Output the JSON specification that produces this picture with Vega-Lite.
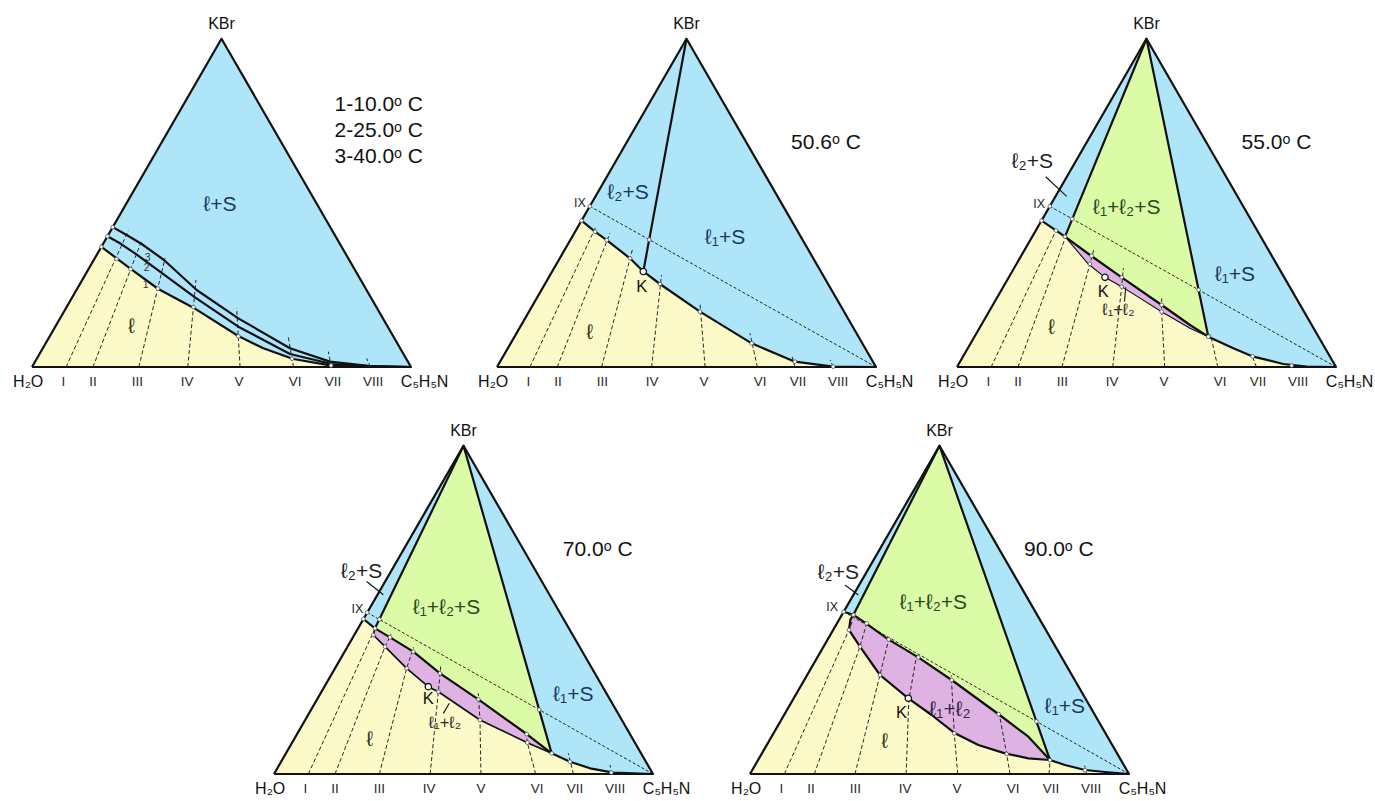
{
"$schema": "https://vega.github.io/schema/vega-lite/v6.json",
"padding": 0,
"background": "white",
"spacing": 0,
"config": {"view": {"stroke": null}, "concat": {"spacing": 0}},
"datasets": {
"polys": [
{"p":1,"id":"t","k":"yellow","o":0,"x":0,"y":0},{"p":1,"id":"t","k":"yellow","o":1,"x":100,"y":0},{"p":1,"id":"t","k":"yellow","o":2,"x":50,"y":86.6},
{"p":1,"id":"b","k":"blue","o":0,"x":18.3,"y":31.7},{"p":1,"id":"b","k":"blue","o":1,"x":50,"y":86.6},{"p":1,"id":"b","k":"blue","o":2,"x":100,"y":0},{"p":1,"id":"b","k":"blue","o":3,"x":90.06,"y":0.09},{"p":1,"id":"b","k":"blue","o":4,"x":79.07,"y":0.35},{"p":1,"id":"b","k":"blue","o":5,"x":68.95,"y":2.11},{"p":1,"id":"b","k":"blue","o":6,"x":61.04,"y":4.93},{"p":1,"id":"b","k":"blue","o":7,"x":54.44,"y":8.18},{"p":1,"id":"b","k":"blue","o":8,"x":42.57,"y":15.65},{"p":1,"id":"b","k":"blue","o":9,"x":33.33,"y":20.58},{"p":1,"id":"b","k":"blue","o":10,"x":25.86,"y":26.03},
{"p":2,"id":"t","k":"yellow","o":0,"x":0,"y":0},{"p":2,"id":"t","k":"yellow","o":1,"x":100,"y":0},{"p":2,"id":"t","k":"yellow","o":2,"x":50,"y":86.6},
{"p":2,"id":"b","k":"blue","o":0,"x":22.3,"y":38.6},{"p":2,"id":"b","k":"blue","o":1,"x":50,"y":86.6},{"p":2,"id":"b","k":"blue","o":2,"x":100,"y":0},{"p":2,"id":"b","k":"blue","o":3,"x":88.7,"y":0.1},{"p":2,"id":"b","k":"blue","o":4,"x":78.6,"y":1.4},{"p":2,"id":"b","k":"blue","o":5,"x":67.2,"y":6.24},{"p":2,"id":"b","k":"blue","o":6,"x":53.56,"y":14.6},{"p":2,"id":"b","k":"blue","o":7,"x":43.0,"y":21.9},{"p":2,"id":"b","k":"blue","o":8,"x":38.6,"y":25.2},{"p":2,"id":"b","k":"blue","o":9,"x":35.09,"y":28.67},{"p":2,"id":"b","k":"blue","o":10,"x":28.94,"y":33.5},{"p":2,"id":"b","k":"blue","o":11,"x":25.86,"y":35.7},
{"p":3,"id":"t","k":"yellow","o":0,"x":0,"y":0},{"p":3,"id":"t","k":"yellow","o":1,"x":100,"y":0},{"p":3,"id":"t","k":"yellow","o":2,"x":50,"y":86.6},
{"p":3,"id":"a","k":"blue","o":0,"x":22.3,"y":38.6},{"p":3,"id":"a","k":"blue","o":1,"x":50,"y":86.6},{"p":3,"id":"a","k":"blue","o":2,"x":28.5,"y":34.39},
{"p":3,"id":"b","k":"blue","o":0,"x":50,"y":86.6},{"p":3,"id":"b","k":"blue","o":1,"x":66.31,"y":8.0},{"p":3,"id":"b","k":"blue","o":2,"x":72.91,"y":4.93},{"p":3,"id":"b","k":"blue","o":3,"x":78.19,"y":2.73},{"p":3,"id":"b","k":"blue","o":4,"x":86.1,"y":0.79},{"p":3,"id":"b","k":"blue","o":5,"x":92.26,"y":0.09},{"p":3,"id":"b","k":"blue","o":6,"x":100,"y":0},
{"p":3,"id":"g","k":"green","o":0,"x":50,"y":86.6},{"p":3,"id":"g","k":"green","o":1,"x":28.5,"y":34.39},{"p":3,"id":"g","k":"green","o":2,"x":35.09,"y":29.55},{"p":3,"id":"g","k":"green","o":3,"x":43.45,"y":23.66},{"p":3,"id":"g","k":"green","o":4,"x":54.0,"y":16.36},{"p":3,"id":"g","k":"green","o":5,"x":61.48,"y":11.08},{"p":3,"id":"g","k":"green","o":6,"x":66.31,"y":8.0},
{"p":3,"id":"k","k":"pink","o":0,"x":28.5,"y":34.39},{"p":3,"id":"k","k":"pink","o":1,"x":35.09,"y":29.55},{"p":3,"id":"k","k":"pink","o":2,"x":43.45,"y":23.66},{"p":3,"id":"k","k":"pink","o":3,"x":54.0,"y":16.36},{"p":3,"id":"k","k":"pink","o":4,"x":61.48,"y":11.08},{"p":3,"id":"k","k":"pink","o":5,"x":66.31,"y":8.0},{"p":3,"id":"k","k":"pink","o":6,"x":61.48,"y":10.2},{"p":3,"id":"k","k":"pink","o":7,"x":54.0,"y":14.6},{"p":3,"id":"k","k":"pink","o":8,"x":43.45,"y":21.2},{"p":3,"id":"k","k":"pink","o":9,"x":39.05,"y":23.66},{"p":3,"id":"k","k":"pink","o":10,"x":34.65,"y":27.18},
{"p":4,"id":"t","k":"yellow","o":0,"x":0,"y":0},{"p":4,"id":"t","k":"yellow","o":1,"x":100,"y":0},{"p":4,"id":"t","k":"yellow","o":2,"x":50,"y":86.6},
{"p":4,"id":"a","k":"blue","o":0,"x":23.6,"y":40.9},{"p":4,"id":"a","k":"blue","o":1,"x":50,"y":86.6},{"p":4,"id":"a","k":"blue","o":2,"x":26.65,"y":38.43},
{"p":4,"id":"b","k":"blue","o":0,"x":50,"y":86.6},{"p":4,"id":"b","k":"blue","o":1,"x":73.26,"y":5.45},{"p":4,"id":"b","k":"blue","o":2,"x":78.1,"y":3.25},{"p":4,"id":"b","k":"blue","o":3,"x":83.38,"y":1.5},{"p":4,"id":"b","k":"blue","o":4,"x":89.53,"y":0.35},{"p":4,"id":"b","k":"blue","o":5,"x":100,"y":0},
{"p":4,"id":"g","k":"green","o":0,"x":50,"y":86.6},{"p":4,"id":"g","k":"green","o":1,"x":26.65,"y":38.43},{"p":4,"id":"g","k":"green","o":2,"x":30.61,"y":36.06},{"p":4,"id":"g","k":"green","o":3,"x":36.76,"y":32.28},{"p":4,"id":"g","k":"green","o":4,"x":43.8,"y":26.56},{"p":4,"id":"g","k":"green","o":5,"x":53.91,"y":19.7},{"p":4,"id":"g","k":"green","o":6,"x":66.67,"y":10.55},{"p":4,"id":"g","k":"green","o":7,"x":73.26,"y":5.45},
{"p":4,"id":"k","k":"pink","o":0,"x":26.65,"y":38.43},{"p":4,"id":"k","k":"pink","o":1,"x":30.61,"y":36.06},{"p":4,"id":"k","k":"pink","o":2,"x":36.76,"y":32.28},{"p":4,"id":"k","k":"pink","o":3,"x":43.8,"y":26.56},{"p":4,"id":"k","k":"pink","o":4,"x":53.91,"y":19.7},{"p":4,"id":"k","k":"pink","o":5,"x":66.67,"y":10.55},{"p":4,"id":"k","k":"pink","o":6,"x":73.26,"y":5.45},{"p":4,"id":"k","k":"pink","o":7,"x":66.84,"y":8.27},{"p":4,"id":"k","k":"pink","o":8,"x":54.35,"y":14.25},{"p":4,"id":"k","k":"pink","o":9,"x":43.36,"y":21.72},{"p":4,"id":"k","k":"pink","o":10,"x":40.72,"y":23.04},{"p":4,"id":"k","k":"pink","o":11,"x":35.0,"y":27.88},{"p":4,"id":"k","k":"pink","o":12,"x":29.29,"y":33.6},{"p":4,"id":"k","k":"pink","o":13,"x":26.21,"y":36.68},
{"p":5,"id":"t","k":"yellow","o":0,"x":0,"y":0},{"p":5,"id":"t","k":"yellow","o":1,"x":100,"y":0},{"p":5,"id":"t","k":"yellow","o":2,"x":50,"y":86.6},
{"p":5,"id":"a","k":"blue","o":0,"x":24.7,"y":42.8},{"p":5,"id":"a","k":"blue","o":1,"x":50,"y":86.6},{"p":5,"id":"a","k":"blue","o":2,"x":27.3,"y":42.0},
{"p":5,"id":"b","k":"blue","o":0,"x":50,"y":86.6},{"p":5,"id":"b","k":"blue","o":1,"x":79.16,"y":3.69},{"p":5,"id":"b","k":"blue","o":2,"x":83.11,"y":2.37},{"p":5,"id":"b","k":"blue","o":3,"x":88.39,"y":1.06},{"p":5,"id":"b","k":"blue","o":4,"x":93.67,"y":0.53},{"p":5,"id":"b","k":"blue","o":5,"x":100,"y":0},
{"p":5,"id":"g","k":"green","o":0,"x":50,"y":86.6},{"p":5,"id":"g","k":"green","o":1,"x":27.3,"y":42.0},{"p":5,"id":"g","k":"green","o":2,"x":30.34,"y":39.93},{"p":5,"id":"g","k":"green","o":3,"x":36.5,"y":35.53},{"p":5,"id":"g","k":"green","o":4,"x":44.41,"y":30.78},{"p":5,"id":"g","k":"green","o":5,"x":53.21,"y":24.8},{"p":5,"id":"g","k":"green","o":6,"x":65.52,"y":15.83},{"p":5,"id":"g","k":"green","o":7,"x":73.44,"y":9.85},{"p":5,"id":"g","k":"green","o":8,"x":79.16,"y":3.69},
{"p":5,"id":"k","k":"pink","o":0,"x":27.3,"y":42.0},{"p":5,"id":"k","k":"pink","o":1,"x":30.34,"y":39.93},{"p":5,"id":"k","k":"pink","o":2,"x":36.5,"y":35.53},{"p":5,"id":"k","k":"pink","o":3,"x":44.41,"y":30.78},{"p":5,"id":"k","k":"pink","o":4,"x":53.21,"y":24.8},{"p":5,"id":"k","k":"pink","o":5,"x":65.52,"y":15.83},{"p":5,"id":"k","k":"pink","o":6,"x":73.44,"y":9.85},{"p":5,"id":"k","k":"pink","o":7,"x":79.16,"y":3.69},{"p":5,"id":"k","k":"pink","o":8,"x":73.44,"y":4.13},{"p":5,"id":"k","k":"pink","o":9,"x":67.28,"y":5.45},{"p":5,"id":"k","k":"pink","o":10,"x":60.25,"y":7.65},{"p":5,"id":"k","k":"pink","o":11,"x":54.09,"y":10.73},{"p":5,"id":"k","k":"pink","o":12,"x":47.93,"y":15.57},{"p":5,"id":"k","k":"pink","o":13,"x":41.78,"y":19.97},{"p":5,"id":"k","k":"pink","o":14,"x":34.3,"y":26.12},{"p":5,"id":"k","k":"pink","o":15,"x":29.02,"y":33.6},{"p":5,"id":"k","k":"pink","o":16,"x":26.12,"y":38.0},{"p":5,"id":"k","k":"pink","o":17,"x":26.5,"y":40.8}
],
"lines": [
{"p":1,"id":"e","k":"edge","o":0,"x":0,"y":0},{"p":1,"id":"e","k":"edge","o":1,"x":100,"y":0},{"p":1,"id":"e","k":"edge","o":2,"x":50,"y":86.6},{"p":1,"id":"e","k":"edge","o":3,"x":0,"y":0},
{"p":1,"id":"c1","k":"curve","o":0,"x":18.3,"y":31.7},{"p":1,"id":"c1","k":"curve","o":1,"x":25.86,"y":26.03},{"p":1,"id":"c1","k":"curve","o":2,"x":33.33,"y":20.58},{"p":1,"id":"c1","k":"curve","o":3,"x":42.57,"y":15.65},{"p":1,"id":"c1","k":"curve","o":4,"x":54.44,"y":8.18},{"p":1,"id":"c1","k":"curve","o":5,"x":61.04,"y":4.93},{"p":1,"id":"c1","k":"curve","o":6,"x":68.95,"y":2.11},{"p":1,"id":"c1","k":"curve","o":7,"x":79.07,"y":0.35},{"p":1,"id":"c1","k":"curve","o":8,"x":90.06,"y":0.09},{"p":1,"id":"c1","k":"curve","o":9,"x":100,"y":0},
{"p":1,"id":"c2","k":"curve","o":0,"x":19.9,"y":34.5},{"p":1,"id":"c2","k":"curve","o":1,"x":23.22,"y":32.63},{"p":1,"id":"c2","k":"curve","o":2,"x":27.18,"y":29.99},{"p":1,"id":"c2","k":"curve","o":3,"x":33.77,"y":25.15},{"p":1,"id":"c2","k":"curve","o":4,"x":43.0,"y":18.38},{"p":1,"id":"c2","k":"curve","o":5,"x":54.44,"y":10.64},{"p":1,"id":"c2","k":"curve","o":6,"x":68.07,"y":3.43},{"p":1,"id":"c2","k":"curve","o":7,"x":79.07,"y":0.79},{"p":1,"id":"c2","k":"curve","o":8,"x":90.06,"y":0.18},{"p":1,"id":"c2","k":"curve","o":9,"x":100,"y":0},
{"p":1,"id":"c3","k":"curve","o":0,"x":21.3,"y":36.9},{"p":1,"id":"c3","k":"curve","o":1,"x":24.98,"y":34.83},{"p":1,"id":"c3","k":"curve","o":2,"x":28.94,"y":32.45},{"p":1,"id":"c3","k":"curve","o":3,"x":34.83,"y":28.23},{"p":1,"id":"c3","k":"curve","o":4,"x":43.45,"y":20.32},{"p":1,"id":"c3","k":"curve","o":5,"x":54.44,"y":12.84},{"p":1,"id":"c3","k":"curve","o":6,"x":68.07,"y":4.93},{"p":1,"id":"c3","k":"curve","o":7,"x":78.63,"y":1.41},{"p":1,"id":"c3","k":"curve","o":8,"x":89.18,"y":0.26},{"p":1,"id":"c3","k":"curve","o":9,"x":100,"y":0},
{"p":1,"id":"t1","k":"dash","o":0,"x":9.0,"y":0},{"p":1,"id":"t1","k":"dash","o":1,"x":25.42,"y":35.97},
{"p":1,"id":"t2","k":"dash","o":0,"x":16.1,"y":0},{"p":1,"id":"t2","k":"dash","o":1,"x":28.94,"y":33.33},
{"p":1,"id":"t3","k":"dash","o":0,"x":28.2,"y":0},{"p":1,"id":"t3","k":"dash","o":1,"x":35.09,"y":28.67},
{"p":1,"id":"t4","k":"dash","o":0,"x":41.1,"y":0},{"p":1,"id":"t4","k":"dash","o":1,"x":43.27,"y":22.96},
{"p":1,"id":"t5","k":"dash","o":0,"x":54.9,"y":0},{"p":1,"id":"t5","k":"dash","o":1,"x":54.0,"y":15.48},
{"p":1,"id":"t6","k":"dash","o":0,"x":69.0,"y":0},{"p":1,"id":"t6","k":"dash","o":1,"x":67.63,"y":7.83},
{"p":1,"id":"t7","k":"dash","o":0,"x":79.0,"y":0},{"p":1,"id":"t7","k":"dash","o":1,"x":78.19,"y":4.05},
{"p":1,"id":"t8","k":"dash","o":0,"x":89.3,"y":0},{"p":1,"id":"t8","k":"dash","o":1,"x":88.3,"y":2.29},
{"p":2,"id":"e","k":"edge","o":0,"x":0,"y":0},{"p":2,"id":"e","k":"edge","o":1,"x":100,"y":0},{"p":2,"id":"e","k":"edge","o":2,"x":50,"y":86.6},{"p":2,"id":"e","k":"edge","o":3,"x":0,"y":0},
{"p":2,"id":"c","k":"curve","o":0,"x":22.3,"y":38.6},{"p":2,"id":"c","k":"curve","o":1,"x":25.86,"y":35.7},{"p":2,"id":"c","k":"curve","o":2,"x":28.94,"y":33.5},{"p":2,"id":"c","k":"curve","o":3,"x":35.09,"y":28.67},{"p":2,"id":"c","k":"curve","o":4,"x":38.6,"y":25.2},{"p":2,"id":"c","k":"curve","o":5,"x":43.0,"y":21.9},{"p":2,"id":"c","k":"curve","o":6,"x":53.56,"y":14.6},{"p":2,"id":"c","k":"curve","o":7,"x":67.2,"y":6.24},{"p":2,"id":"c","k":"curve","o":8,"x":78.6,"y":1.4},{"p":2,"id":"c","k":"curve","o":9,"x":88.7,"y":0.1},{"p":2,"id":"c","k":"curve","o":10,"x":100,"y":0},
{"p":2,"id":"kl","k":"edge","o":0,"x":50,"y":86.6},{"p":2,"id":"kl","k":"edge","o":1,"x":38.6,"y":25.2},
{"p":2,"id":"ix","k":"ix","o":0,"x":24.5,"y":42.4},{"p":2,"id":"ix","k":"ix","o":1,"x":100,"y":0},
{"p":2,"id":"t1","k":"dash","o":0,"x":8.7,"y":0},{"p":2,"id":"t1","k":"dash","o":1,"x":26.1,"y":37.0},
{"p":2,"id":"t2","k":"dash","o":0,"x":15.9,"y":0},{"p":2,"id":"t2","k":"dash","o":1,"x":29.8,"y":35.3},
{"p":2,"id":"t3","k":"dash","o":0,"x":27.6,"y":0},{"p":2,"id":"t3","k":"dash","o":1,"x":35.7,"y":30.9},
{"p":2,"id":"t4","k":"dash","o":0,"x":40.8,"y":0},{"p":2,"id":"t4","k":"dash","o":1,"x":43.4,"y":24.3},
{"p":2,"id":"t5","k":"dash","o":0,"x":54.9,"y":0},{"p":2,"id":"t5","k":"dash","o":1,"x":53.56,"y":16.8},
{"p":2,"id":"t6","k":"dash","o":0,"x":68.7,"y":0},{"p":2,"id":"t6","k":"dash","o":1,"x":66.75,"y":8.9},
{"p":2,"id":"t7","k":"dash","o":0,"x":78.6,"y":0},{"p":2,"id":"t7","k":"dash","o":1,"x":77.75,"y":3.2},
{"p":2,"id":"t8","k":"dash","o":0,"x":88.7,"y":0},{"p":2,"id":"t8","k":"dash","o":1,"x":87.9,"y":1.85},
{"p":3,"id":"e","k":"edge","o":0,"x":0,"y":0},{"p":3,"id":"e","k":"edge","o":1,"x":100,"y":0},{"p":3,"id":"e","k":"edge","o":2,"x":50,"y":86.6},{"p":3,"id":"e","k":"edge","o":3,"x":0,"y":0},
{"p":3,"id":"ca","k":"curve","o":0,"x":22.3,"y":38.6},{"p":3,"id":"ca","k":"curve","o":1,"x":28.5,"y":34.39},
{"p":3,"id":"cu","k":"curve","o":0,"x":28.5,"y":34.39},{"p":3,"id":"cu","k":"curve","o":1,"x":35.09,"y":29.55},{"p":3,"id":"cu","k":"curve","o":2,"x":43.45,"y":23.66},{"p":3,"id":"cu","k":"curve","o":3,"x":54.0,"y":16.36},{"p":3,"id":"cu","k":"curve","o":4,"x":61.48,"y":11.08},{"p":3,"id":"cu","k":"curve","o":5,"x":66.31,"y":8.0},
{"p":3,"id":"cl","k":"thin","o":0,"x":28.5,"y":34.39},{"p":3,"id":"cl","k":"thin","o":1,"x":34.65,"y":27.18},{"p":3,"id":"cl","k":"thin","o":2,"x":39.05,"y":23.66},{"p":3,"id":"cl","k":"thin","o":3,"x":43.45,"y":21.2},{"p":3,"id":"cl","k":"thin","o":4,"x":54.0,"y":14.6},{"p":3,"id":"cl","k":"thin","o":5,"x":61.48,"y":10.2},{"p":3,"id":"cl","k":"thin","o":6,"x":66.31,"y":8.0},
{"p":3,"id":"cr","k":"curve","o":0,"x":66.31,"y":8.0},{"p":3,"id":"cr","k":"curve","o":1,"x":72.91,"y":4.93},{"p":3,"id":"cr","k":"curve","o":2,"x":78.19,"y":2.73},{"p":3,"id":"cr","k":"curve","o":3,"x":86.1,"y":0.79},{"p":3,"id":"cr","k":"curve","o":4,"x":92.26,"y":0.09},{"p":3,"id":"cr","k":"curve","o":5,"x":100,"y":0},
{"p":3,"id":"ge","k":"edge","o":0,"x":28.5,"y":34.39},{"p":3,"id":"ge","k":"edge","o":1,"x":50,"y":86.6},{"p":3,"id":"ge","k":"edge","o":2,"x":66.31,"y":8.0},
{"p":3,"id":"ix","k":"ix","o":0,"x":24.5,"y":42.4},{"p":3,"id":"ix","k":"ix","o":1,"x":100,"y":0},
{"p":3,"id":"t1","k":"dash","o":0,"x":9.0,"y":0},{"p":3,"id":"t1","k":"dash","o":1,"x":26.1,"y":36.0},
{"p":3,"id":"t2","k":"dash","o":0,"x":16.1,"y":0},{"p":3,"id":"t2","k":"dash","o":1,"x":28.9,"y":35.0},
{"p":3,"id":"t3","k":"dash","o":0,"x":27.7,"y":0},{"p":3,"id":"t3","k":"dash","o":1,"x":35.07,"y":27.2},{"p":3,"id":"t3","k":"dash","o":2,"x":36.1,"y":31.0},
{"p":3,"id":"t4","k":"dash","o":0,"x":41.1,"y":0},{"p":3,"id":"t4","k":"dash","o":1,"x":43.45,"y":21.2},{"p":3,"id":"t4","k":"dash","o":2,"x":43.89,"y":26.03},
{"p":3,"id":"t5","k":"dash","o":0,"x":54.8,"y":0},{"p":3,"id":"t5","k":"dash","o":1,"x":54.0,"y":14.6},{"p":3,"id":"t5","k":"dash","o":2,"x":54.0,"y":18.1},
{"p":3,"id":"t6","k":"dash","o":0,"x":68.8,"y":0},{"p":3,"id":"t6","k":"dash","o":1,"x":66.9,"y":8.6},
{"p":3,"id":"t7","k":"dash","o":0,"x":79.0,"y":0},{"p":3,"id":"t7","k":"dash","o":1,"x":77.75,"y":3.17},
{"p":3,"id":"t8","k":"dash","o":0,"x":89.0,"y":0},{"p":3,"id":"t8","k":"dash","o":1,"x":88.3,"y":1.2},
{"p":3,"id":"la","k":"lead","o":0,"x":23.4,"y":50.2},{"p":3,"id":"la","k":"lead","o":1,"x":28.94,"y":45.0},
{"p":3,"id":"lb","k":"lead","o":0,"x":44.2,"y":17.3},{"p":3,"id":"lb","k":"lead","o":1,"x":44.5,"y":21.0},
{"p":4,"id":"e","k":"edge","o":0,"x":0,"y":0},{"p":4,"id":"e","k":"edge","o":1,"x":100,"y":0},{"p":4,"id":"e","k":"edge","o":2,"x":50,"y":86.6},{"p":4,"id":"e","k":"edge","o":3,"x":0,"y":0},
{"p":4,"id":"ca","k":"curve","o":0,"x":23.6,"y":40.9},{"p":4,"id":"ca","k":"curve","o":1,"x":26.65,"y":38.43},
{"p":4,"id":"cu","k":"curve","o":0,"x":26.65,"y":38.43},{"p":4,"id":"cu","k":"curve","o":1,"x":30.61,"y":36.06},{"p":4,"id":"cu","k":"curve","o":2,"x":36.76,"y":32.28},{"p":4,"id":"cu","k":"curve","o":3,"x":43.8,"y":26.56},{"p":4,"id":"cu","k":"curve","o":4,"x":53.91,"y":19.7},{"p":4,"id":"cu","k":"curve","o":5,"x":66.67,"y":10.55},{"p":4,"id":"cu","k":"curve","o":6,"x":73.26,"y":5.45},
{"p":4,"id":"cl","k":"mid","o":0,"x":26.65,"y":38.43},{"p":4,"id":"cl","k":"mid","o":1,"x":26.21,"y":36.68},{"p":4,"id":"cl","k":"mid","o":2,"x":29.29,"y":33.6},{"p":4,"id":"cl","k":"mid","o":3,"x":35.0,"y":27.88},{"p":4,"id":"cl","k":"mid","o":4,"x":40.72,"y":23.04},{"p":4,"id":"cl","k":"mid","o":5,"x":43.36,"y":21.72},{"p":4,"id":"cl","k":"mid","o":6,"x":54.35,"y":14.25},{"p":4,"id":"cl","k":"mid","o":7,"x":66.84,"y":8.27},{"p":4,"id":"cl","k":"mid","o":8,"x":73.26,"y":5.45},
{"p":4,"id":"cr","k":"curve","o":0,"x":73.26,"y":5.45},{"p":4,"id":"cr","k":"curve","o":1,"x":78.1,"y":3.25},{"p":4,"id":"cr","k":"curve","o":2,"x":83.38,"y":1.5},{"p":4,"id":"cr","k":"curve","o":3,"x":89.53,"y":0.35},{"p":4,"id":"cr","k":"curve","o":4,"x":100,"y":0},
{"p":4,"id":"ge","k":"edge","o":0,"x":26.65,"y":38.43},{"p":4,"id":"ge","k":"edge","o":1,"x":50,"y":86.6},{"p":4,"id":"ge","k":"edge","o":2,"x":73.26,"y":5.45},
{"p":4,"id":"ix","k":"ix","o":0,"x":24.6,"y":42.6},{"p":4,"id":"ix","k":"ix","o":1,"x":100,"y":0},
{"p":4,"id":"t1","k":"dash","o":0,"x":9.06,"y":0},{"p":4,"id":"t1","k":"dash","o":1,"x":26.3,"y":37.6},
{"p":4,"id":"t2","k":"dash","o":0,"x":16.1,"y":0},{"p":4,"id":"t2","k":"dash","o":1,"x":29.29,"y":33.6},{"p":4,"id":"t2","k":"dash","o":2,"x":30.9,"y":36.9},
{"p":4,"id":"t3","k":"dash","o":0,"x":27.8,"y":0},{"p":4,"id":"t3","k":"dash","o":1,"x":35.0,"y":27.88},{"p":4,"id":"t3","k":"dash","o":2,"x":36.8,"y":33.4},
{"p":4,"id":"t4","k":"dash","o":0,"x":41.2,"y":0},{"p":4,"id":"t4","k":"dash","o":1,"x":43.36,"y":21.72},{"p":4,"id":"t4","k":"dash","o":2,"x":44.0,"y":28.5},
{"p":4,"id":"t5","k":"dash","o":0,"x":54.6,"y":0},{"p":4,"id":"t5","k":"dash","o":1,"x":54.35,"y":14.25},{"p":4,"id":"t5","k":"dash","o":2,"x":53.9,"y":21.3},
{"p":4,"id":"t6","k":"dash","o":0,"x":69.04,"y":0},{"p":4,"id":"t6","k":"dash","o":1,"x":66.84,"y":8.27},{"p":4,"id":"t6","k":"dash","o":2,"x":66.5,"y":11.2},
{"p":4,"id":"t7","k":"dash","o":0,"x":79.0,"y":0},{"p":4,"id":"t7","k":"dash","o":1,"x":77.66,"y":5.45},
{"p":4,"id":"t8","k":"dash","o":0,"x":89.1,"y":0},{"p":4,"id":"t8","k":"dash","o":1,"x":88.65,"y":2.37},
{"p":4,"id":"la","k":"lead","o":0,"x":24.45,"y":50.8},{"p":4,"id":"la","k":"lead","o":1,"x":28.85,"y":47.3},
{"p":4,"id":"lb","k":"lead","o":0,"x":44.68,"y":16.0},{"p":4,"id":"lb","k":"lead","o":1,"x":46.26,"y":18.65},
{"p":5,"id":"e","k":"edge","o":0,"x":0,"y":0},{"p":5,"id":"e","k":"edge","o":1,"x":100,"y":0},{"p":5,"id":"e","k":"edge","o":2,"x":50,"y":86.6},{"p":5,"id":"e","k":"edge","o":3,"x":0,"y":0},
{"p":5,"id":"ca","k":"curve","o":0,"x":24.7,"y":42.8},{"p":5,"id":"ca","k":"curve","o":1,"x":27.3,"y":42.0},
{"p":5,"id":"cu","k":"curve","o":0,"x":27.3,"y":42.0},{"p":5,"id":"cu","k":"curve","o":1,"x":30.34,"y":39.93},{"p":5,"id":"cu","k":"curve","o":2,"x":36.5,"y":35.53},{"p":5,"id":"cu","k":"curve","o":3,"x":44.41,"y":30.78},{"p":5,"id":"cu","k":"curve","o":4,"x":53.21,"y":24.8},{"p":5,"id":"cu","k":"curve","o":5,"x":65.52,"y":15.83},{"p":5,"id":"cu","k":"curve","o":6,"x":73.44,"y":9.85},{"p":5,"id":"cu","k":"curve","o":7,"x":79.16,"y":3.69},
{"p":5,"id":"cl","k":"curve","o":0,"x":27.3,"y":42.0},{"p":5,"id":"cl","k":"curve","o":1,"x":26.5,"y":40.8},{"p":5,"id":"cl","k":"curve","o":2,"x":26.12,"y":38.0},{"p":5,"id":"cl","k":"curve","o":3,"x":29.02,"y":33.6},{"p":5,"id":"cl","k":"curve","o":4,"x":34.3,"y":26.12},{"p":5,"id":"cl","k":"curve","o":5,"x":41.78,"y":19.97},{"p":5,"id":"cl","k":"curve","o":6,"x":47.93,"y":15.57},{"p":5,"id":"cl","k":"curve","o":7,"x":54.09,"y":10.73},{"p":5,"id":"cl","k":"curve","o":8,"x":60.25,"y":7.65},{"p":5,"id":"cl","k":"curve","o":9,"x":67.28,"y":5.45},{"p":5,"id":"cl","k":"curve","o":10,"x":73.44,"y":4.13},{"p":5,"id":"cl","k":"curve","o":11,"x":79.16,"y":3.69},
{"p":5,"id":"cr","k":"curve","o":0,"x":79.16,"y":3.69},{"p":5,"id":"cr","k":"curve","o":1,"x":83.11,"y":2.37},{"p":5,"id":"cr","k":"curve","o":2,"x":88.39,"y":1.06},{"p":5,"id":"cr","k":"curve","o":3,"x":93.67,"y":0.53},{"p":5,"id":"cr","k":"curve","o":4,"x":100,"y":0},
{"p":5,"id":"ge","k":"edge","o":0,"x":27.3,"y":42.0},{"p":5,"id":"ge","k":"edge","o":1,"x":50,"y":86.6},{"p":5,"id":"ge","k":"edge","o":2,"x":79.16,"y":3.69},
{"p":5,"id":"ix","k":"ix","o":0,"x":24.7,"y":42.8},{"p":5,"id":"ix","k":"ix","o":1,"x":100,"y":0},
{"p":5,"id":"t1","k":"dash","o":0,"x":9.06,"y":0},{"p":5,"id":"t1","k":"dash","o":1,"x":26.12,"y":38.0},{"p":5,"id":"t1","k":"dash","o":2,"x":27.2,"y":40.8},
{"p":5,"id":"t2","k":"dash","o":0,"x":16.97,"y":0},{"p":5,"id":"t2","k":"dash","o":1,"x":29.02,"y":33.6},{"p":5,"id":"t2","k":"dash","o":2,"x":30.78,"y":39.75},
{"p":5,"id":"t3","k":"dash","o":0,"x":27.7,"y":0},{"p":5,"id":"t3","k":"dash","o":1,"x":34.3,"y":26.12},{"p":5,"id":"t3","k":"dash","o":2,"x":36.6,"y":35.53},
{"p":5,"id":"t4","k":"dash","o":0,"x":41.2,"y":0},{"p":5,"id":"t4","k":"dash","o":1,"x":41.9,"y":19.5},{"p":5,"id":"t4","k":"dash","o":2,"x":43.98,"y":31.4},
{"p":5,"id":"t5","k":"dash","o":0,"x":54.8,"y":0},{"p":5,"id":"t5","k":"dash","o":1,"x":53.9,"y":10.73},{"p":5,"id":"t5","k":"dash","o":2,"x":53.1,"y":26.0},
{"p":5,"id":"t6","k":"dash","o":0,"x":68.6,"y":0},{"p":5,"id":"t6","k":"dash","o":1,"x":67.72,"y":5.28},{"p":5,"id":"t6","k":"dash","o":2,"x":65.6,"y":16.8},
{"p":5,"id":"t7","k":"dash","o":0,"x":78.9,"y":0},{"p":5,"id":"t7","k":"dash","o":1,"x":79.3,"y":4.8},
{"p":5,"id":"t8","k":"dash","o":0,"x":88.8,"y":0},{"p":5,"id":"t8","k":"dash","o":1,"x":88.3,"y":2.2},
{"p":5,"id":"la","k":"lead","o":0,"x":25.07,"y":49.87},{"p":5,"id":"la","k":"lead","o":1,"x":28.58,"y":47.23}
],
"pts": [
{"p":1,"k":"s","x":18.3,"y":31.7},{"p":1,"k":"s","x":19.9,"y":34.5},{"p":1,"k":"s","x":21.3,"y":36.9},{"p":1,"k":"s","x":22.3,"y":28.5},{"p":1,"k":"s","x":26.0,"y":25.8},{"p":1,"k":"s","x":33.2,"y":20.7},{"p":1,"k":"s","x":42.6,"y":15.8},{"p":1,"k":"s","x":54.43,"y":8.1},{"p":1,"k":"s","x":68.6,"y":2.2},{"p":1,"k":"s","x":78.9,"y":0.4},
{"p":2,"k":"s","x":22.3,"y":38.6},{"p":2,"k":"s","x":24.5,"y":42.4},{"p":2,"k":"s","x":25.86,"y":35.7},{"p":2,"k":"s","x":28.94,"y":33.5},{"p":2,"k":"s","x":35.09,"y":28.67},{"p":2,"k":"s","x":43.0,"y":21.9},{"p":2,"k":"s","x":53.56,"y":14.6},{"p":2,"k":"s","x":67.2,"y":6.24},{"p":2,"k":"s","x":78.6,"y":1.4},{"p":2,"k":"s","x":88.7,"y":0.1},{"p":2,"k":"s","x":40.16,"y":33.6},
{"p":2,"k":"K","x":38.6,"y":25.2},
{"p":3,"k":"s","x":22.3,"y":38.6},{"p":3,"k":"s","x":24.5,"y":42.4},{"p":3,"k":"s","x":28.5,"y":34.39},{"p":3,"k":"s","x":26.1,"y":36.0},{"p":3,"k":"s","x":35.5,"y":29.3},{"p":3,"k":"s","x":43.45,"y":23.66},{"p":3,"k":"s","x":54.0,"y":16.36},{"p":3,"k":"s","x":66.31,"y":8.0},{"p":3,"k":"s","x":78.0,"y":2.8},{"p":3,"k":"s","x":88.3,"y":0.4},{"p":3,"k":"s","x":35.07,"y":27.2},{"p":3,"k":"s","x":43.45,"y":21.2},{"p":3,"k":"s","x":54.0,"y":14.6},{"p":3,"k":"s","x":63.74,"y":20.36},{"p":3,"k":"s","x":30.43,"y":39.06},
{"p":3,"k":"K","x":39.05,"y":23.66},
{"p":4,"k":"s","x":23.6,"y":40.9},{"p":4,"k":"s","x":24.6,"y":42.6},{"p":4,"k":"s","x":26.65,"y":38.43},{"p":4,"k":"s","x":30.61,"y":36.06},{"p":4,"k":"s","x":36.76,"y":32.28},{"p":4,"k":"s","x":43.8,"y":26.56},{"p":4,"k":"s","x":53.91,"y":19.7},{"p":4,"k":"s","x":66.67,"y":10.55},{"p":4,"k":"s","x":26.21,"y":36.68},{"p":4,"k":"s","x":29.29,"y":33.6},{"p":4,"k":"s","x":35.0,"y":27.88},{"p":4,"k":"s","x":43.36,"y":21.72},{"p":4,"k":"s","x":54.35,"y":14.25},{"p":4,"k":"s","x":66.84,"y":8.27},{"p":4,"k":"s","x":73.26,"y":5.45},{"p":4,"k":"s","x":78.1,"y":3.25},{"p":4,"k":"s","x":89.0,"y":0.4},{"p":4,"k":"s","x":27.8,"y":40.8},{"p":4,"k":"s","x":69.96,"y":16.98},
{"p":4,"k":"K","x":40.72,"y":23.04},
{"p":5,"k":"s","x":24.7,"y":42.8},{"p":5,"k":"s","x":27.3,"y":42.0},{"p":5,"k":"s","x":30.78,"y":39.75},{"p":5,"k":"s","x":36.6,"y":35.5},{"p":5,"k":"s","x":44.41,"y":30.78},{"p":5,"k":"s","x":53.21,"y":24.8},{"p":5,"k":"s","x":65.6,"y":15.8},{"p":5,"k":"s","x":26.12,"y":38.0},{"p":5,"k":"s","x":29.02,"y":33.6},{"p":5,"k":"s","x":34.3,"y":26.12},{"p":5,"k":"s","x":53.9,"y":10.73},{"p":5,"k":"s","x":67.72,"y":5.28},{"p":5,"k":"s","x":79.16,"y":3.69},{"p":5,"k":"s","x":88.39,"y":1.0},{"p":5,"k":"s","x":75.57,"y":13.89},
{"p":5,"k":"K","x":41.78,"y":19.97}
],
"common": [
{"k":"vertex","x":50,"y":90.5,"t":"KBr"},{"k":"vertex","x":-1,"y":-3.9,"t":"H₂O"},{"k":"vertex","x":103.6,"y":-3.9,"t":"C₅H₅N"},
{"k":"tick","x":8.3,"y":-3.9,"t":"I"},{"k":"tick","x":16.1,"y":-3.9,"t":"II"},{"k":"tick","x":27.8,"y":-3.9,"t":"III"},{"k":"tick","x":40.9,"y":-3.9,"t":"IV"},{"k":"tick","x":54.6,"y":-3.9,"t":"V"},{"k":"tick","x":69.4,"y":-3.9,"t":"VI"},{"k":"tick","x":79.4,"y":-3.9,"t":"VII"},{"k":"tick","x":90.0,"y":-3.9,"t":"VIII"}
],
"labels": [
{"p":1,"k":"temp","x":91.5,"y":69.2,"t":"1-10.0ᵒ C"},{"p":1,"k":"temp","x":91.5,"y":62.2,"t":"2-25.0ᵒ C"},{"p":1,"k":"temp","x":91.5,"y":55.3,"t":"3-40.0ᵒ C"},
{"p":1,"k":"phB","x":49.6,"y":42.7,"t":"ℓ+S"},{"p":1,"k":"phY","x":26.3,"y":10.6,"t":"ℓ"},
{"p":1,"k":"num","x":30.5,"y":28.85,"t":"3"},{"p":1,"k":"num","x":30.26,"y":26.0,"t":"2"},{"p":1,"k":"num","x":30.0,"y":21.6,"t":"1"},
{"p":2,"k":"ix","x":21.9,"y":43.2,"t":"IX"},{"p":2,"k":"phB","x":34.6,"y":45.8,"t":"ℓ₂+S"},{"p":2,"k":"phB","x":60.2,"y":34.0,"t":"ℓ₁+S"},{"p":2,"k":"K","x":38.2,"y":21.2,"t":"K"},{"p":2,"k":"phY","x":24.5,"y":8.9,"t":"ℓ"},{"p":2,"k":"temp","x":86.8,"y":59.0,"t":"50.6ᵒ C"},
{"p":3,"k":"ix","x":21.7,"y":43.0,"t":"IX"},{"p":3,"k":"phW","x":19.9,"y":54.2,"t":"ℓ₂+S"},{"p":3,"k":"phG","x":44.8,"y":41.9,"t":"ℓ₁+ℓ₂+S"},{"p":3,"k":"phB","x":73.35,"y":24.3,"t":"ℓ₁+S"},{"p":3,"k":"K","x":38.6,"y":19.9,"t":"K"},{"p":3,"k":"phS","x":42.6,"y":15.0,"t":"ℓ₁+ℓ₂"},{"p":3,"k":"phY","x":25.0,"y":10.2,"t":"ℓ"},{"p":3,"k":"temp","x":84.3,"y":59.0,"t":"55.0ᵒ C"},
{"p":4,"k":"ix","x":22.0,"y":43.5,"t":"IX"},{"p":4,"k":"phW","x":23.1,"y":53.4,"t":"ℓ₂+S"},{"p":4,"k":"phG","x":45.56,"y":43.7,"t":"ℓ₁+ℓ₂+S"},{"p":4,"k":"phB","x":79.0,"y":20.8,"t":"ℓ₁+S"},{"p":4,"k":"K","x":40.72,"y":19.7,"t":"K"},{"p":4,"k":"phS","x":45.1,"y":13.4,"t":"ℓ₁+ℓ₂"},{"p":4,"k":"phY","x":25.3,"y":9.0,"t":"ℓ"},{"p":4,"k":"temp","x":85.4,"y":59.1,"t":"70.0ᵒ C"},
{"p":5,"k":"ix","x":21.7,"y":44.0,"t":"IX"},{"p":5,"k":"phW","x":23.3,"y":53.0,"t":"ℓ₂+S"},{"p":5,"k":"phG","x":48.4,"y":45.2,"t":"ℓ₁+ℓ₂+S"},{"p":5,"k":"phB","x":83.1,"y":17.8,"t":"ℓ₁+S"},{"p":5,"k":"K","x":40.0,"y":16.0,"t":"K"},{"p":5,"k":"phP","x":52.8,"y":16.9,"t":"ℓ₁+ℓ₂"},{"p":5,"k":"phY","x":35.6,"y":8.5,"t":"ℓ"},{"p":5,"k":"temp","x":81.5,"y":59.1,"t":"90.0ᵒ C"}
]
},
"vconcat": [
{"hconcat": [
{"width":460,"height":410,
"encoding":{"x":{"field":"x","type":"quantitative","scale":{"domain":[-8.443,112.929],"nice":false,"zero":false},"axis":null},"y":{"field":"y","type":"quantitative","scale":{"domain":[-11.346,96.834],"nice":false,"zero":false},"axis":null}},
"layer":[
{"data":{"name":"polys"},"transform":[{"filter":"datum.p==1 && datum.k=='yellow'"}],"mark":{"type":"line","interpolate":"linear-closed","fill":"#fcfac8","color":"#fcfac8","strokeWidth":0.5},"encoding":{"order":{"field":"o","type":"quantitative"},"detail":{"field":"id","type":"nominal"}}},
{"data":{"name":"polys"},"transform":[{"filter":"datum.p==1 && datum.k=='blue'"}],"mark":{"type":"line","interpolate":"linear-closed","fill":"#aee5f9","color":"#aee5f9","strokeWidth":0.5},"encoding":{"order":{"field":"o","type":"quantitative"},"detail":{"field":"id","type":"nominal"}}},
{"data":{"name":"lines"},"transform":[{"filter":"datum.p==1 && datum.k=='dash'"}],"mark":{"type":"line","color":"#111111","strokeWidth":0.9,"strokeDash":[4,2.5]},"encoding":{"order":{"field":"o","type":"quantitative"},"detail":{"field":"id","type":"nominal"}}},
{"data":{"name":"lines"},"transform":[{"filter":"datum.p==1 && (datum.k=='edge' || datum.k=='curve')"}],"mark":{"type":"line","color":"#111111","strokeWidth":2.2,"strokeJoin":"round"},"encoding":{"order":{"field":"o","type":"quantitative"},"detail":{"field":"id","type":"nominal"}}},
{"data":{"name":"pts"},"transform":[{"filter":"datum.p==1 && datum.k=='s'"}],"mark":{"type":"point","shape":"circle","filled":true,"color":"#ffffff","stroke":"#555555","strokeWidth":0.8,"size":14,"opacity":1}},
{"data":{"name":"common"},"transform":[{"filter":"datum.k=='vertex'"}],"mark":{"type":"text","font":"Liberation Sans, DejaVu Sans","fontSize":16,"color":"#111111","align":"center","baseline":"middle"},"encoding":{"text":{"field":"t","type":"nominal"}}},
{"data":{"name":"common"},"transform":[{"filter":"datum.k=='tick'"}],"mark":{"type":"text","font":"Liberation Sans, DejaVu Sans","fontSize":13.5,"color":"#2a2a2a","align":"center","baseline":"middle"},"encoding":{"text":{"field":"t","type":"nominal"}}},
{"data":{"name":"labels"},"transform":[{"filter":"datum.p==1 && indexof(['temp','phB','phG','phY','phW','phP'], datum.k) >= 0"}],"mark":{"type":"text","font":"Liberation Sans, DejaVu Sans","fontSize":21,"align":"center","baseline":"middle"},"encoding":{"text":{"field":"t","type":"nominal"},"color":{"field":"k","type":"nominal","scale":{"domain":["temp","phB","phG","phY","phW","phP","phS","K","ix","num"],"range":["#111111","#1c3764","#2b4a1c","#3a3a1c","#1e1e1e","#3a2646","#2a2a2a","#111111","#222222","#333333"]},"legend":null}}},
{"data":{"name":"labels"},"transform":[{"filter":"datum.p==1 && indexof(['ix','num'], datum.k) >= 0"}],"mark":{"type":"text","font":"Liberation Sans, DejaVu Sans","fontSize":10.5,"align":"center","baseline":"middle"},"encoding":{"text":{"field":"t","type":"nominal"},"color":{"field":"k","type":"nominal","scale":{"domain":["temp","phB","phG","phY","phW","phP","phS","K","ix","num"],"range":["#111111","#1c3764","#2b4a1c","#3a3a1c","#1e1e1e","#3a2646","#2a2a2a","#111111","#222222","#333333"]},"legend":null}}}
]},
{"width":465,"height":410,
"encoding":{"x":{"field":"x","type":"quantitative","scale":{"domain":[-9.763,112.929],"nice":false,"zero":false},"axis":null},"y":{"field":"y","type":"quantitative","scale":{"domain":[-11.346,96.834],"nice":false,"zero":false},"axis":null}},
"layer":[
{"data":{"name":"polys"},"transform":[{"filter":"datum.p==2 && datum.k=='yellow'"}],"mark":{"type":"line","interpolate":"linear-closed","fill":"#fcfac8","color":"#fcfac8","strokeWidth":0.5},"encoding":{"order":{"field":"o","type":"quantitative"},"detail":{"field":"id","type":"nominal"}}},
{"data":{"name":"polys"},"transform":[{"filter":"datum.p==2 && datum.k=='blue'"}],"mark":{"type":"line","interpolate":"linear-closed","fill":"#aee5f9","color":"#aee5f9","strokeWidth":0.5},"encoding":{"order":{"field":"o","type":"quantitative"},"detail":{"field":"id","type":"nominal"}}},
{"data":{"name":"lines"},"transform":[{"filter":"datum.p==2 && datum.k=='dash'"}],"mark":{"type":"line","color":"#111111","strokeWidth":0.9,"strokeDash":[4,2.5]},"encoding":{"order":{"field":"o","type":"quantitative"},"detail":{"field":"id","type":"nominal"}}},
{"data":{"name":"lines"},"transform":[{"filter":"datum.p==2 && datum.k=='ix'"}],"mark":{"type":"line","color":"#111111","strokeWidth":0.9,"strokeDash":[3,2]},"encoding":{"order":{"field":"o","type":"quantitative"},"detail":{"field":"id","type":"nominal"}}},
{"data":{"name":"lines"},"transform":[{"filter":"datum.p==2 && (datum.k=='edge' || datum.k=='curve')"}],"mark":{"type":"line","color":"#111111","strokeWidth":2.2,"strokeJoin":"round"},"encoding":{"order":{"field":"o","type":"quantitative"},"detail":{"field":"id","type":"nominal"}}},
{"data":{"name":"pts"},"transform":[{"filter":"datum.p==2 && datum.k=='s'"}],"mark":{"type":"point","shape":"circle","filled":true,"color":"#ffffff","stroke":"#555555","strokeWidth":0.8,"size":14,"opacity":1}},
{"data":{"name":"pts"},"transform":[{"filter":"datum.p==2 && datum.k=='K'"}],"mark":{"type":"point","shape":"circle","filled":true,"color":"#ffffff","stroke":"#111111","strokeWidth":1.3,"size":40,"opacity":1}},
{"data":{"name":"common"},"transform":[{"filter":"datum.k=='vertex'"}],"mark":{"type":"text","font":"Liberation Sans, DejaVu Sans","fontSize":16,"color":"#111111","align":"center","baseline":"middle"},"encoding":{"text":{"field":"t","type":"nominal"}}},
{"data":{"name":"common"},"transform":[{"filter":"datum.k=='tick'"}],"mark":{"type":"text","font":"Liberation Sans, DejaVu Sans","fontSize":13.5,"color":"#2a2a2a","align":"center","baseline":"middle"},"encoding":{"text":{"field":"t","type":"nominal"}}},
{"data":{"name":"labels"},"transform":[{"filter":"datum.p==2 && indexof(['temp','phB','phG','phY','phW','phP'], datum.k) >= 0"}],"mark":{"type":"text","font":"Liberation Sans, DejaVu Sans","fontSize":21,"align":"center","baseline":"middle"},"encoding":{"text":{"field":"t","type":"nominal"},"color":{"field":"k","type":"nominal","scale":{"domain":["temp","phB","phG","phY","phW","phP","phS","K","ix","num"],"range":["#111111","#1c3764","#2b4a1c","#3a3a1c","#1e1e1e","#3a2646","#2a2a2a","#111111","#222222","#333333"]},"legend":null}}},
{"data":{"name":"labels"},"transform":[{"filter":"datum.p==2 && indexof(['phS','K'], datum.k) >= 0"}],"mark":{"type":"text","font":"Liberation Sans, DejaVu Sans","fontSize":16.5,"align":"center","baseline":"middle"},"encoding":{"text":{"field":"t","type":"nominal"},"color":{"field":"k","type":"nominal","scale":{"domain":["temp","phB","phG","phY","phW","phP","phS","K","ix","num"],"range":["#111111","#1c3764","#2b4a1c","#3a3a1c","#1e1e1e","#3a2646","#2a2a2a","#111111","#222222","#333333"]},"legend":null}}},
{"data":{"name":"labels"},"transform":[{"filter":"datum.p==2 && indexof(['ix','num'], datum.k) >= 0"}],"mark":{"type":"text","font":"Liberation Sans, DejaVu Sans","fontSize":12.5,"align":"center","baseline":"middle"},"encoding":{"text":{"field":"t","type":"nominal"},"color":{"field":"k","type":"nominal","scale":{"domain":["temp","phB","phG","phY","phW","phP","phS","K","ix","num"],"range":["#111111","#1c3764","#2b4a1c","#3a3a1c","#1e1e1e","#3a2646","#2a2a2a","#111111","#222222","#333333"]},"legend":null}}}
]},
{"width":450,"height":410,
"encoding":{"x":{"field":"x","type":"quantitative","scale":{"domain":[-8.443,110.29],"nice":false,"zero":false},"axis":null},"y":{"field":"y","type":"quantitative","scale":{"domain":[-11.346,96.834],"nice":false,"zero":false},"axis":null}},
"layer":[
{"data":{"name":"polys"},"transform":[{"filter":"datum.p==3 && datum.k=='yellow'"}],"mark":{"type":"line","interpolate":"linear-closed","fill":"#fcfac8","color":"#fcfac8","strokeWidth":0.5},"encoding":{"order":{"field":"o","type":"quantitative"},"detail":{"field":"id","type":"nominal"}}},
{"data":{"name":"polys"},"transform":[{"filter":"datum.p==3 && datum.k=='blue'"}],"mark":{"type":"line","interpolate":"linear-closed","fill":"#aee5f9","color":"#aee5f9","strokeWidth":0.5},"encoding":{"order":{"field":"o","type":"quantitative"},"detail":{"field":"id","type":"nominal"}}},
{"data":{"name":"polys"},"transform":[{"filter":"datum.p==3 && datum.k=='green'"}],"mark":{"type":"line","interpolate":"linear-closed","fill":"#dbfba7","color":"#dbfba7","strokeWidth":0.5},"encoding":{"order":{"field":"o","type":"quantitative"},"detail":{"field":"id","type":"nominal"}}},
{"data":{"name":"polys"},"transform":[{"filter":"datum.p==3 && datum.k=='pink'"}],"mark":{"type":"line","interpolate":"linear-closed","fill":"#deb2e2","color":"#deb2e2","strokeWidth":0.5},"encoding":{"order":{"field":"o","type":"quantitative"},"detail":{"field":"id","type":"nominal"}}},
{"data":{"name":"lines"},"transform":[{"filter":"datum.p==3 && datum.k=='dash'"}],"mark":{"type":"line","color":"#111111","strokeWidth":0.9,"strokeDash":[4,2.5]},"encoding":{"order":{"field":"o","type":"quantitative"},"detail":{"field":"id","type":"nominal"}}},
{"data":{"name":"lines"},"transform":[{"filter":"datum.p==3 && datum.k=='ix'"}],"mark":{"type":"line","color":"#111111","strokeWidth":0.9,"strokeDash":[3,2]},"encoding":{"order":{"field":"o","type":"quantitative"},"detail":{"field":"id","type":"nominal"}}},
{"data":{"name":"lines"},"transform":[{"filter":"datum.p==3 && (datum.k=='thin' || datum.k=='lead')"}],"mark":{"type":"line","color":"#111111","strokeWidth":1.1},"encoding":{"order":{"field":"o","type":"quantitative"},"detail":{"field":"id","type":"nominal"}}},
{"data":{"name":"lines"},"transform":[{"filter":"datum.p==3 && (datum.k=='edge' || datum.k=='curve')"}],"mark":{"type":"line","color":"#111111","strokeWidth":2.2,"strokeJoin":"round"},"encoding":{"order":{"field":"o","type":"quantitative"},"detail":{"field":"id","type":"nominal"}}},
{"data":{"name":"pts"},"transform":[{"filter":"datum.p==3 && datum.k=='s'"}],"mark":{"type":"point","shape":"circle","filled":true,"color":"#ffffff","stroke":"#555555","strokeWidth":0.8,"size":14,"opacity":1}},
{"data":{"name":"pts"},"transform":[{"filter":"datum.p==3 && datum.k=='K'"}],"mark":{"type":"point","shape":"circle","filled":true,"color":"#ffffff","stroke":"#111111","strokeWidth":1.3,"size":40,"opacity":1}},
{"data":{"name":"common"},"transform":[{"filter":"datum.k=='vertex'"}],"mark":{"type":"text","font":"Liberation Sans, DejaVu Sans","fontSize":16,"color":"#111111","align":"center","baseline":"middle"},"encoding":{"text":{"field":"t","type":"nominal"}}},
{"data":{"name":"common"},"transform":[{"filter":"datum.k=='tick'"}],"mark":{"type":"text","font":"Liberation Sans, DejaVu Sans","fontSize":13.5,"color":"#2a2a2a","align":"center","baseline":"middle"},"encoding":{"text":{"field":"t","type":"nominal"}}},
{"data":{"name":"labels"},"transform":[{"filter":"datum.p==3 && indexof(['temp','phB','phG','phY','phW','phP'], datum.k) >= 0"}],"mark":{"type":"text","font":"Liberation Sans, DejaVu Sans","fontSize":21,"align":"center","baseline":"middle"},"encoding":{"text":{"field":"t","type":"nominal"},"color":{"field":"k","type":"nominal","scale":{"domain":["temp","phB","phG","phY","phW","phP","phS","K","ix","num"],"range":["#111111","#1c3764","#2b4a1c","#3a3a1c","#1e1e1e","#3a2646","#2a2a2a","#111111","#222222","#333333"]},"legend":null}}},
{"data":{"name":"labels"},"transform":[{"filter":"datum.p==3 && indexof(['phS','K'], datum.k) >= 0"}],"mark":{"type":"text","font":"Liberation Sans, DejaVu Sans","fontSize":16.5,"align":"center","baseline":"middle"},"encoding":{"text":{"field":"t","type":"nominal"},"color":{"field":"k","type":"nominal","scale":{"domain":["temp","phB","phG","phY","phW","phP","phS","K","ix","num"],"range":["#111111","#1c3764","#2b4a1c","#3a3a1c","#1e1e1e","#3a2646","#2a2a2a","#111111","#222222","#333333"]},"legend":null}}},
{"data":{"name":"labels"},"transform":[{"filter":"datum.p==3 && indexof(['ix','num'], datum.k) >= 0"}],"mark":{"type":"text","font":"Liberation Sans, DejaVu Sans","fontSize":12.5,"align":"center","baseline":"middle"},"encoding":{"text":{"field":"t","type":"nominal"},"color":{"field":"k","type":"nominal","scale":{"domain":["temp","phB","phG","phY","phW","phP","phS","K","ix","num"],"range":["#111111","#1c3764","#2b4a1c","#3a3a1c","#1e1e1e","#3a2646","#2a2a2a","#111111","#222222","#333333"]},"legend":null}}}
]}
], "spacing": 0, "bounds": "flush"},
{"hconcat": [
{"width":700,"height":391,
"encoding":{"x":{"field":"x","type":"quantitative","scale":{"domain":[-72.296,112.401],"nice":false,"zero":false},"axis":null},"y":{"field":"y","type":"quantitative","scale":{"domain":[-7.124,96.042],"nice":false,"zero":false},"axis":null}},
"layer":[
{"data":{"name":"polys"},"transform":[{"filter":"datum.p==4 && datum.k=='yellow'"}],"mark":{"type":"line","interpolate":"linear-closed","fill":"#fcfac8","color":"#fcfac8","strokeWidth":0.5},"encoding":{"order":{"field":"o","type":"quantitative"},"detail":{"field":"id","type":"nominal"}}},
{"data":{"name":"polys"},"transform":[{"filter":"datum.p==4 && datum.k=='blue'"}],"mark":{"type":"line","interpolate":"linear-closed","fill":"#aee5f9","color":"#aee5f9","strokeWidth":0.5},"encoding":{"order":{"field":"o","type":"quantitative"},"detail":{"field":"id","type":"nominal"}}},
{"data":{"name":"polys"},"transform":[{"filter":"datum.p==4 && datum.k=='green'"}],"mark":{"type":"line","interpolate":"linear-closed","fill":"#dbfba7","color":"#dbfba7","strokeWidth":0.5},"encoding":{"order":{"field":"o","type":"quantitative"},"detail":{"field":"id","type":"nominal"}}},
{"data":{"name":"polys"},"transform":[{"filter":"datum.p==4 && datum.k=='pink'"}],"mark":{"type":"line","interpolate":"linear-closed","fill":"#deb2e2","color":"#deb2e2","strokeWidth":0.5},"encoding":{"order":{"field":"o","type":"quantitative"},"detail":{"field":"id","type":"nominal"}}},
{"data":{"name":"lines"},"transform":[{"filter":"datum.p==4 && datum.k=='dash'"}],"mark":{"type":"line","color":"#111111","strokeWidth":0.9,"strokeDash":[4,2.5]},"encoding":{"order":{"field":"o","type":"quantitative"},"detail":{"field":"id","type":"nominal"}}},
{"data":{"name":"lines"},"transform":[{"filter":"datum.p==4 && datum.k=='ix'"}],"mark":{"type":"line","color":"#111111","strokeWidth":0.9,"strokeDash":[3,2]},"encoding":{"order":{"field":"o","type":"quantitative"},"detail":{"field":"id","type":"nominal"}}},
{"data":{"name":"lines"},"transform":[{"filter":"datum.p==4 && (datum.k=='thin' || datum.k=='lead')"}],"mark":{"type":"line","color":"#111111","strokeWidth":1.1},"encoding":{"order":{"field":"o","type":"quantitative"},"detail":{"field":"id","type":"nominal"}}},
{"data":{"name":"lines"},"transform":[{"filter":"datum.p==4 && datum.k=='mid'"}],"mark":{"type":"line","color":"#111111","strokeWidth":1.7,"strokeJoin":"round"},"encoding":{"order":{"field":"o","type":"quantitative"},"detail":{"field":"id","type":"nominal"}}},
{"data":{"name":"lines"},"transform":[{"filter":"datum.p==4 && (datum.k=='edge' || datum.k=='curve')"}],"mark":{"type":"line","color":"#111111","strokeWidth":2.2,"strokeJoin":"round"},"encoding":{"order":{"field":"o","type":"quantitative"},"detail":{"field":"id","type":"nominal"}}},
{"data":{"name":"pts"},"transform":[{"filter":"datum.p==4 && datum.k=='s'"}],"mark":{"type":"point","shape":"circle","filled":true,"color":"#ffffff","stroke":"#555555","strokeWidth":0.8,"size":14,"opacity":1}},
{"data":{"name":"pts"},"transform":[{"filter":"datum.p==4 && datum.k=='K'"}],"mark":{"type":"point","shape":"circle","filled":true,"color":"#ffffff","stroke":"#111111","strokeWidth":1.3,"size":40,"opacity":1}},
{"data":{"name":"common"},"transform":[{"filter":"datum.k=='vertex'"}],"mark":{"type":"text","font":"Liberation Sans, DejaVu Sans","fontSize":16,"color":"#111111","align":"center","baseline":"middle"},"encoding":{"text":{"field":"t","type":"nominal"}}},
{"data":{"name":"common"},"transform":[{"filter":"datum.k=='tick'"}],"mark":{"type":"text","font":"Liberation Sans, DejaVu Sans","fontSize":13.5,"color":"#2a2a2a","align":"center","baseline":"middle"},"encoding":{"text":{"field":"t","type":"nominal"}}},
{"data":{"name":"labels"},"transform":[{"filter":"datum.p==4 && indexof(['temp','phB','phG','phY','phW','phP'], datum.k) >= 0"}],"mark":{"type":"text","font":"Liberation Sans, DejaVu Sans","fontSize":21,"align":"center","baseline":"middle"},"encoding":{"text":{"field":"t","type":"nominal"},"color":{"field":"k","type":"nominal","scale":{"domain":["temp","phB","phG","phY","phW","phP","phS","K","ix","num"],"range":["#111111","#1c3764","#2b4a1c","#3a3a1c","#1e1e1e","#3a2646","#2a2a2a","#111111","#222222","#333333"]},"legend":null}}},
{"data":{"name":"labels"},"transform":[{"filter":"datum.p==4 && indexof(['phS','K'], datum.k) >= 0"}],"mark":{"type":"text","font":"Liberation Sans, DejaVu Sans","fontSize":16.5,"align":"center","baseline":"middle"},"encoding":{"text":{"field":"t","type":"nominal"},"color":{"field":"k","type":"nominal","scale":{"domain":["temp","phB","phG","phY","phW","phP","phS","K","ix","num"],"range":["#111111","#1c3764","#2b4a1c","#3a3a1c","#1e1e1e","#3a2646","#2a2a2a","#111111","#222222","#333333"]},"legend":null}}},
{"data":{"name":"labels"},"transform":[{"filter":"datum.p==4 && indexof(['ix','num'], datum.k) >= 0"}],"mark":{"type":"text","font":"Liberation Sans, DejaVu Sans","fontSize":12.5,"align":"center","baseline":"middle"},"encoding":{"text":{"field":"t","type":"nominal"},"color":{"field":"k","type":"nominal","scale":{"domain":["temp","phB","phG","phY","phW","phP","phS","K","ix","num"],"range":["#111111","#1c3764","#2b4a1c","#3a3a1c","#1e1e1e","#3a2646","#2a2a2a","#111111","#222222","#333333"]},"legend":null}}}
]},
{"width":675,"height":391,
"encoding":{"x":{"field":"x","type":"quantitative","scale":{"domain":[-13.193,164.908],"nice":false,"zero":false},"axis":null},"y":{"field":"y","type":"quantitative","scale":{"domain":[-7.124,96.042],"nice":false,"zero":false},"axis":null}},
"layer":[
{"data":{"name":"polys"},"transform":[{"filter":"datum.p==5 && datum.k=='yellow'"}],"mark":{"type":"line","interpolate":"linear-closed","fill":"#fcfac8","color":"#fcfac8","strokeWidth":0.5},"encoding":{"order":{"field":"o","type":"quantitative"},"detail":{"field":"id","type":"nominal"}}},
{"data":{"name":"polys"},"transform":[{"filter":"datum.p==5 && datum.k=='blue'"}],"mark":{"type":"line","interpolate":"linear-closed","fill":"#aee5f9","color":"#aee5f9","strokeWidth":0.5},"encoding":{"order":{"field":"o","type":"quantitative"},"detail":{"field":"id","type":"nominal"}}},
{"data":{"name":"polys"},"transform":[{"filter":"datum.p==5 && datum.k=='green'"}],"mark":{"type":"line","interpolate":"linear-closed","fill":"#dbfba7","color":"#dbfba7","strokeWidth":0.5},"encoding":{"order":{"field":"o","type":"quantitative"},"detail":{"field":"id","type":"nominal"}}},
{"data":{"name":"polys"},"transform":[{"filter":"datum.p==5 && datum.k=='pink'"}],"mark":{"type":"line","interpolate":"linear-closed","fill":"#deb2e2","color":"#deb2e2","strokeWidth":0.5},"encoding":{"order":{"field":"o","type":"quantitative"},"detail":{"field":"id","type":"nominal"}}},
{"data":{"name":"lines"},"transform":[{"filter":"datum.p==5 && datum.k=='dash'"}],"mark":{"type":"line","color":"#111111","strokeWidth":0.9,"strokeDash":[4,2.5]},"encoding":{"order":{"field":"o","type":"quantitative"},"detail":{"field":"id","type":"nominal"}}},
{"data":{"name":"lines"},"transform":[{"filter":"datum.p==5 && datum.k=='ix'"}],"mark":{"type":"line","color":"#111111","strokeWidth":0.9,"strokeDash":[3,2]},"encoding":{"order":{"field":"o","type":"quantitative"},"detail":{"field":"id","type":"nominal"}}},
{"data":{"name":"lines"},"transform":[{"filter":"datum.p==5 && (datum.k=='thin' || datum.k=='lead')"}],"mark":{"type":"line","color":"#111111","strokeWidth":1.1},"encoding":{"order":{"field":"o","type":"quantitative"},"detail":{"field":"id","type":"nominal"}}},
{"data":{"name":"lines"},"transform":[{"filter":"datum.p==5 && (datum.k=='edge' || datum.k=='curve')"}],"mark":{"type":"line","color":"#111111","strokeWidth":2.2,"strokeJoin":"round"},"encoding":{"order":{"field":"o","type":"quantitative"},"detail":{"field":"id","type":"nominal"}}},
{"data":{"name":"pts"},"transform":[{"filter":"datum.p==5 && datum.k=='s'"}],"mark":{"type":"point","shape":"circle","filled":true,"color":"#ffffff","stroke":"#555555","strokeWidth":0.8,"size":14,"opacity":1}},
{"data":{"name":"pts"},"transform":[{"filter":"datum.p==5 && datum.k=='K'"}],"mark":{"type":"point","shape":"circle","filled":true,"color":"#ffffff","stroke":"#111111","strokeWidth":1.3,"size":40,"opacity":1}},
{"data":{"name":"common"},"transform":[{"filter":"datum.k=='vertex'"}],"mark":{"type":"text","font":"Liberation Sans, DejaVu Sans","fontSize":16,"color":"#111111","align":"center","baseline":"middle"},"encoding":{"text":{"field":"t","type":"nominal"}}},
{"data":{"name":"common"},"transform":[{"filter":"datum.k=='tick'"}],"mark":{"type":"text","font":"Liberation Sans, DejaVu Sans","fontSize":13.5,"color":"#2a2a2a","align":"center","baseline":"middle"},"encoding":{"text":{"field":"t","type":"nominal"}}},
{"data":{"name":"labels"},"transform":[{"filter":"datum.p==5 && indexof(['temp','phB','phG','phY','phW','phP'], datum.k) >= 0"}],"mark":{"type":"text","font":"Liberation Sans, DejaVu Sans","fontSize":21,"align":"center","baseline":"middle"},"encoding":{"text":{"field":"t","type":"nominal"},"color":{"field":"k","type":"nominal","scale":{"domain":["temp","phB","phG","phY","phW","phP","phS","K","ix","num"],"range":["#111111","#1c3764","#2b4a1c","#3a3a1c","#1e1e1e","#3a2646","#2a2a2a","#111111","#222222","#333333"]},"legend":null}}},
{"data":{"name":"labels"},"transform":[{"filter":"datum.p==5 && indexof(['phS','K'], datum.k) >= 0"}],"mark":{"type":"text","font":"Liberation Sans, DejaVu Sans","fontSize":16.5,"align":"center","baseline":"middle"},"encoding":{"text":{"field":"t","type":"nominal"},"color":{"field":"k","type":"nominal","scale":{"domain":["temp","phB","phG","phY","phW","phP","phS","K","ix","num"],"range":["#111111","#1c3764","#2b4a1c","#3a3a1c","#1e1e1e","#3a2646","#2a2a2a","#111111","#222222","#333333"]},"legend":null}}},
{"data":{"name":"labels"},"transform":[{"filter":"datum.p==5 && indexof(['ix','num'], datum.k) >= 0"}],"mark":{"type":"text","font":"Liberation Sans, DejaVu Sans","fontSize":12.5,"align":"center","baseline":"middle"},"encoding":{"text":{"field":"t","type":"nominal"},"color":{"field":"k","type":"nominal","scale":{"domain":["temp","phB","phG","phY","phW","phP","phS","K","ix","num"],"range":["#111111","#1c3764","#2b4a1c","#3a3a1c","#1e1e1e","#3a2646","#2a2a2a","#111111","#222222","#333333"]},"legend":null}}}
]}
], "spacing": 0, "bounds": "flush"}
]
}
